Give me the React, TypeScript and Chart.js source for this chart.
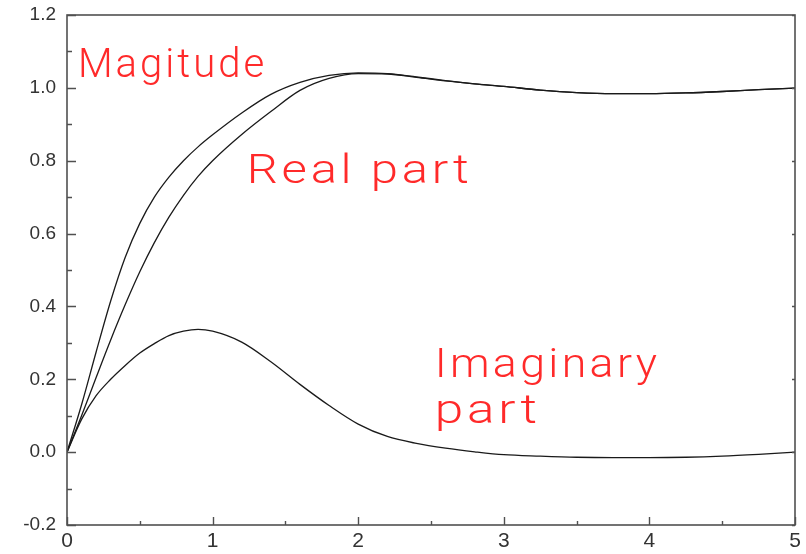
import React, { useEffect, useRef } from "react";
import { Chart, registerables } from "chart.js";

Chart.register(...registerables);

const xs = [0, 0.1, 0.2, 0.3, 0.4, 0.5, 0.6, 0.7, 0.8, 0.9, 1.0, 1.2, 1.4, 1.6, 1.8, 2.0, 2.2, 2.4, 2.6, 2.8, 3.0, 3.25, 3.5, 3.75, 4.0, 4.25, 4.5, 4.75, 5.0];
const magnitude = [0, 0.13, 0.275, 0.415, 0.535, 0.628, 0.7, 0.755, 0.8, 0.838, 0.871, 0.931, 0.982, 1.015, 1.034, 1.041, 1.039, 1.03, 1.02, 1.011, 1.004, 0.994, 0.987, 0.984, 0.984, 0.986, 0.99, 0.995, 0.999];
const realPart = [0, 0.1, 0.205, 0.308, 0.405, 0.495, 0.575, 0.645, 0.705, 0.757, 0.8, 0.872, 0.935, 0.993, 1.026, 1.039, 1.038, 1.029, 1.019, 1.011, 1.004, 0.994, 0.987, 0.984, 0.984, 0.986, 0.99, 0.995, 0.999];
const imagPart = [0, 0.09, 0.155, 0.2, 0.238, 0.272, 0.298, 0.32, 0.332, 0.337, 0.332, 0.302, 0.248, 0.186, 0.128, 0.077, 0.043, 0.024, 0.011, 0.001, -0.007, -0.011, -0.014, -0.015, -0.015, -0.014, -0.011, -0.006, 0];

const xTickLabels = ["0", "1", "2", "3", "4", "5"];
const yTickLabels = ["-0.2", "0.0", "0.2", "0.4", "0.6", "0.8", "1.0", "1.2"];

// text annotations: left x, baseline y, and span (all in data units)
const annotations = [
  { text: "Magitude", x: 0.075, y: 1.031, span: 1.3 },
  { text: "Real part", x: 1.235, y: 0.738, span: 1.55 },
  { text: "Imaginary", x: 2.525, y: 0.206, span: 1.55 },
  { text: "part", x: 2.525, y: 0.08, span: 0.73 },
];

const frameTicksPlugin = {
  id: "frameTicks",
  afterDatasetsDraw(chart: any) {
    const { ctx, chartArea, scales } = chart;
    const { left, right, top, bottom } = chartArea;
    const xs_ = scales.x;
    const ys_ = scales.y;
    ctx.save();
    ctx.strokeStyle = "#505050";
    ctx.lineWidth = 1.6;
    ctx.strokeRect(left, top, right - left, bottom - top);
    ctx.lineWidth = 1.4;
    ctx.beginPath();
    for (let i = 0; i <= 14; i++) {
      const v = -0.2 + i * 0.1;
      const py = Math.round(ys_.getPixelForValue(v)) + 0.5;
      const major = i % 2 === 0;
      ctx.moveTo(left, py);
      ctx.lineTo(left + (major ? 9 : 5), py);
      if (major) {
        ctx.moveTo(right, py);
        ctx.lineTo(right - 3, py);
      }
    }
    for (let i = 0; i <= 10; i++) {
      const v = i * 0.5;
      const px = Math.round(xs_.getPixelForValue(v)) + 0.5;
      const major = i % 2 === 0;
      ctx.moveTo(px, bottom);
      ctx.lineTo(px, bottom - (major ? 8 : 4));
    }
    ctx.stroke();

    ctx.fillStyle = "#ff2a2a";
    ctx.font = "300 40px Roboto, 'Noto Sans', sans-serif";
    (ctx as any).letterSpacing = "3px";
    ctx.textAlign = "left";
    ctx.textBaseline = "alphabetic";
    for (const a of annotations) {
      const px = xs_.getPixelForValue(a.x);
      const py = ys_.getPixelForValue(a.y);
      const target = xs_.getPixelForValue(a.x + a.span) - px;
      const w = ctx.measureText(a.text).width;
      const sx = target / w;
      ctx.save();
      ctx.translate(px, py);
      ctx.scale(sx, 1);
      ctx.fillText(a.text, 0, 0);
      ctx.restore();
    }
    ctx.restore();
  },
};

export default function App() {
  const ref = useRef<HTMLCanvasElement | null>(null);
  useEffect(() => {
    if (!ref.current) return;
    const mk = (arr: number[]) => xs.map((x, i) => ({ x, y: arr[i] }));
    const lineStyle = {
      borderColor: "#1a1a1a",
      borderWidth: 1.3,
      pointRadius: 0,
      fill: false,
      cubicInterpolationMode: "monotone" as const,
    };
    const chart = new Chart(ref.current, {
      type: "line",
      data: {
        datasets: [
          { label: "Magnitude", data: mk(magnitude), ...lineStyle },
          { label: "Real part", data: mk(realPart), ...lineStyle },
          { label: "Imaginary part", data: mk(imagPart), ...lineStyle },
        ],
      },
      options: {
        animation: false,
        responsive: false,
        devicePixelRatio: 1,
        layout: { autoPadding: false, padding: { top: 15, right: 11, left: 0, bottom: 0 } },
        plugins: { legend: { display: false }, tooltip: { enabled: false } },
        scales: {
          x: {
            type: "linear",
            min: 0,
            max: 5,
            grid: { display: false, drawTicks: false },
            border: { display: false },
            afterFit: (s: any) => {
              s.height = 29;
              s.paddingLeft = 0;
              s.paddingRight = 0;
            },
            ticks: {
              stepSize: 1,
              padding: 4,
              color: "#333",
              font: { family: "'Liberation Sans', Arial, sans-serif", size: 21 },
              callback: (v: any) => xTickLabels[Math.round(Number(v))] ?? "",
            },
          },
          y: {
            type: "linear",
            min: -0.2,
            max: 1.2,
            grid: { display: false, drawTicks: false },
            border: { display: false },
            afterFit: (s: any) => {
              s.width = 67;
              s.paddingTop = 0;
              s.paddingBottom = 0;
            },
            ticks: {
              stepSize: 0.2,
              padding: 11,
              color: "#333",
              font: { family: "'Liberation Sans', Arial, sans-serif", size: 19 },
              callback: (v: any) => yTickLabels[Math.round((Number(v) + 0.2) / 0.2)] ?? "",
            },
          },
        },
      },
      plugins: [frameTicksPlugin],
    });
    return () => chart.destroy();
  }, []);
  return (
    <div style={{ position: "fixed", left: 0, top: 0, width: 806, height: 554, background: "#fff" }}>
      <canvas ref={ref} width={806} height={554} style={{ display: "block" }} />
    </div>
  );
}
